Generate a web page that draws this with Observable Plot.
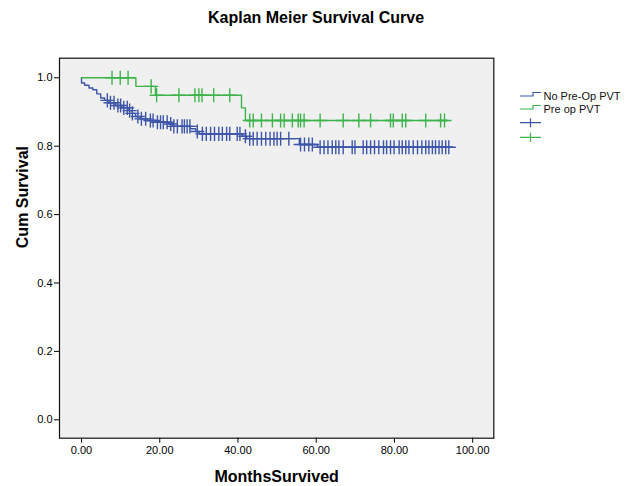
<!DOCTYPE html>
<html><head><meta charset="utf-8">
<script src="https://cdn.jsdelivr.net/npm/d3@7"></script>
<script src="https://cdn.jsdelivr.net/npm/@observablehq/plot@0.6"></script>
<style>
body{margin:0;background:#fff;font-family:"Liberation Sans",Arial,sans-serif;}
#wrap{position:relative;width:632px;height:486px;overflow:hidden;}
#title{height:36px;line-height:36px;text-align:center;font-weight:bold;font-size:16px;color:#000;}
#legend{position:absolute;left:0;top:0;}
</style></head><body>
<div id="wrap"><div id="title">Kaplan Meier Survival Curve</div><div id="chart"></div><svg id="legend" width="632" height="486"></svg></div>
<script>
const groups = ["No Pre-Op PVT", "Pre op PVT"];
const colors = ["#3c55a8", "#3cb44b"];

// No Pre-Op PVT: event times and survival after each event
const blueEventTimes = [0, 0.8, 1.9, 2.9, 3.9, 4.9, 5.9, 7.0, 8.7, 10.3, 11.9, 13.0, 13.8, 15.0, 16.9, 19.0, 22.2, 23.3, 27.8, 29.2, 30.1, 41.1, 42.2, 55.7, 60.3];
const blueSurvival   = [0.985, 0.978, 0.970, 0.965, 0.953, 0.941, 0.934, 0.927, 0.919, 0.912, 0.904, 0.896, 0.887, 0.880, 0.875, 0.870, 0.865, 0.858, 0.851, 0.843, 0.836, 0.829, 0.822, 0.805, 0.797];
const blueEndTime = 94.8;
const blueCensorTimes = [6.6, 7.4, 8.3, 9.3, 10.0, 10.8, 11.7, 12.3, 13.0, 14.4, 15.3, 16.4, 17.6, 18.3, 19.4, 20.2, 20.9, 21.9, 22.8, 23.6, 24.5, 25.7, 26.3, 27.0, 27.7, 29.6, 30.9, 31.9, 33.0, 34.0, 35.1, 36.0, 37.1, 37.9, 39.8, 40.5, 41.9, 43.0, 43.9, 44.9, 46.0, 47.1, 48.2, 49.2, 50.0, 50.9, 53.0, 56.0, 57.0, 58.1, 59.0, 61.0, 62.0, 63.0, 64.1, 65.0, 65.8, 66.9, 69.2, 69.9, 72.0, 72.9, 73.9, 74.9, 76.0, 77.2, 78.0, 79.0, 79.9, 81.2, 82.0, 82.9, 83.7, 84.8, 85.9, 87.0, 88.0, 88.8, 89.7, 90.5, 91.4, 92.2, 93.1, 93.9];

// Pre op PVT
const greenEventTimes = [13.9, 18.9, 40.9, 41.9];
const greenSurvival   = [0.975, 0.949, 0.912, 0.875];
const greenEndTime = 93.7;
const greenCensorTimes = [7.8, 9.9, 11.9, 17.8, 19.2, 24.9, 29.0, 30.0, 30.8, 33.8, 37.9, 43.0, 43.9, 46.0, 48.8, 50.9, 51.8, 53.9, 55.4, 56.0, 56.9, 61.0, 66.9, 70.9, 73.9, 79.0, 79.7, 82.0, 82.9, 88.0, 91.8, 92.8];

const xTicks = [0, 20, 40, 60, 80, 100];
const yTicks = [0, 0.2, 0.4, 0.6, 0.8, 1.0];

function stepPoints(group, times, surv, end) {
  const pts = [{group, t: 0, s: 1}];
  times.forEach((t, i) => pts.push({group, t, s: surv[i]}));
  pts.push({group, t: end, s: surv[surv.length - 1]});
  return pts;
}
function censorPoints(group, ctimes, times, surv) {
  return ctimes.map(t => {
    const i = d3.bisectRight(times, t);
    return {group, t, s: i === 0 ? 1 : surv[i - 1]};
  });
}

const lines = [
  ...stepPoints(groups[0], blueEventTimes, blueSurvival, blueEndTime),
  ...stepPoints(groups[1], greenEventTimes, greenSurvival, greenEndTime)
];
const censors = [
  ...censorPoints(groups[0], blueCensorTimes, blueEventTimes, blueSurvival),
  ...censorPoints(groups[1], greenCensorTimes, greenEventTimes, greenSurvival)
];

const chart = Plot.plot({
  width: 632,
  height: 450,
  marginLeft: 59,
  marginRight: 138.7,
  marginTop: 21.7,
  marginBottom: 48.3,
  style: {fontFamily: "'Liberation Sans', Arial, sans-serif", fontSize: "11px", background: "white", color: "black"},
  x: {domain: [-5.63, 105.4]},
  y: {domain: [-0.0538, 1.0573]},
  color: {domain: groups, range: colors},
  marks: [
    Plot.frame({fill: "#f0f0f0", stroke: null}),
    Plot.line(lines, {x: "t", y: "s", z: "group", stroke: "group", curve: "step-after", strokeWidth: 1.4}),
    Plot.dot(censors, {x: "t", y: "s", stroke: "group", symbol: "plus", r: 4.6, strokeWidth: 1.4}),
    Plot.frame({stroke: "#111", strokeWidth: 1.2}),
    Plot.axisX({ticks: xTicks, tickFormat: d => d.toFixed(2), tickSize: 5, tickPadding: 3, label: null, fontSize: 11}),
    Plot.axisY({ticks: yTicks, tickFormat: d => d.toFixed(1), tickSize: 5, tickPadding: 2, label: null, fontSize: 11}),
    Plot.text(["Cum Survival"], {frameAnchor: "left", dx: -37, rotate: -90, fontWeight: "bold", fontSize: 16, text: d => d}),
    Plot.text(["MonthsSurvived"], {frameAnchor: "bottom", dy: 44, fontWeight: "bold", fontSize: 16, text: d => d})
  ]
});
document.getElementById("chart").appendChild(chart);

// Legend
const lg = d3.select("#legend");
const legendRows = [
  {kind: "line", color: colors[0], label: groups[0], y: 96},
  {kind: "line", color: colors[1], label: groups[1], y: 109},
  {kind: "plus", color: colors[0], label: "", y: 122.7},
  {kind: "plus", color: colors[1], label: "", y: 137.3}
];
legendRows.forEach(r => {
  if (r.kind === "line") {
    lg.append("path").attr("d", `M520,${r.y}H533V${r.y - 3.5}H541`).attr("fill", "none").attr("stroke", r.color).attr("stroke-width", 1.2);
  } else {
    lg.append("path").attr("d", `M520,${r.y}H541M530.5,${r.y - 4.5}V${r.y + 4.5}`).attr("fill", "none").attr("stroke", r.color).attr("stroke-width", 1.2);
  }
  if (r.label) {
    lg.append("text").attr("x", 543.5).attr("y", r.y + 3.6).attr("font-size", 11).attr("font-family", "'Liberation Sans', Arial, sans-serif").attr("fill", "#111").text(r.label);
  }
});
</script>
</body></html>
